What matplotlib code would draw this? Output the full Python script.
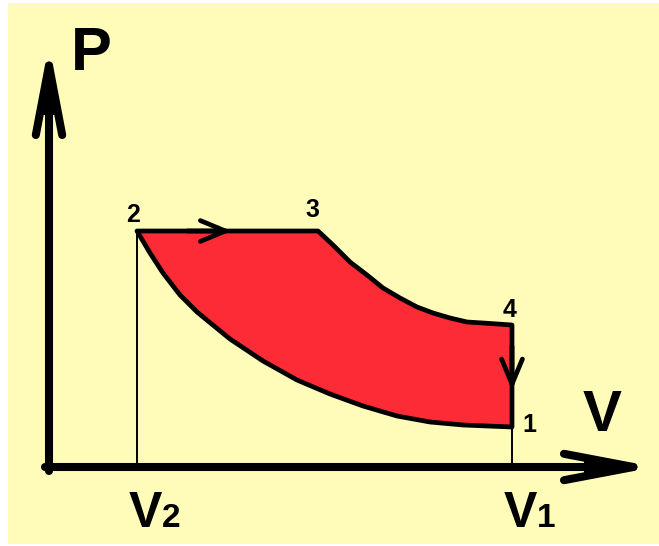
import matplotlib.pyplot as plt

plt.rcParams['font.family'] = ['Liberation Sans', 'DejaVu Sans']

# --- cycle data (V, P in arbitrary units, origin at the axes corner) ---
V1, V2, V3 = 463, 88, 269
P1, P2, P4 = 40, 236, 142
P3 = P2

# compression 1 -> 2
comp_V = [463, 414, 381, 348, 314, 281, 248, 214, 181, 148, 131, 114, 101, 88]
comp_P = [40, 42, 45, 51, 61, 73, 87, 106, 128, 155, 172, 194, 214, 236]
# expansion 3 -> 4
exp_V = [269, 284, 301, 318, 334, 351, 368, 384, 401, 418, 434, 463]
exp_P = [236, 222, 205, 192, 179, 169, 160, 154, 149, 145, 144, 142]

point_labels = ['1', '2', '3', '4']
axis_labels = ['P', 'V']
volume_labels = [('V', '2'), ('V', '1')]

V_max, P_max = 587, 404   # arrow tips of the axes

BG = '#fffcb9'
RED = '#fd2b35'

fig = plt.figure(figsize=(6.59, 5.46), dpi=100, facecolor='white')
ax = fig.add_axes([8 / 659, 2 / 546, 651 / 659, 541 / 546])
ax.set_xlim(-41, 610)
ax.set_ylim(-77, 464)
ax.axis('off')
ax.add_patch(plt.Rectangle((0, 0), 1, 1, transform=ax.transAxes,
                           facecolor=BG, edgecolor='none', zorder=0))

# cycle area
cyc_V = comp_V + exp_V + [V1]
cyc_P = comp_P + exp_P + [P1]
ax.fill(cyc_V, cyc_P, facecolor=RED, edgecolor='black', lw=3.4,
        joinstyle='round', zorder=3)

# thin drop lines to the V axis
ax.plot([V2, V2], [0, P2], color='black', lw=1.4, zorder=2)
ax.plot([V1, V1], [0, P1], color='black', lw=1.4, zorder=2)

# axes with big arrows (tip is pulled back by the head pad, so aim past it)
axis_arrow = dict(arrowstyle='->,head_length=5.0,head_width=0.95',
                  lw=5.8, color='black', shrinkA=0, shrinkB=0,
                  mutation_scale=10, joinstyle='round', capstyle='round')
# solid inner part of the head, leaves a small notch at the back
head_fill = dict(arrowstyle='-|>,head_length=3.6,head_width=0.7',
                 lw=0, color='black', shrinkA=0, shrinkB=0, mutation_scale=10)
ax.annotate('', xy=(0, P_max + 19), xytext=(0, -4), arrowprops=axis_arrow, zorder=4)
ax.annotate('', xy=(V_max + 19, 0), xytext=(-4, 0), arrowprops=axis_arrow, zorder=4)
ax.annotate('', xy=(0, P_max - 2), xytext=(0, P_max - 120), arrowprops=head_fill, zorder=4)
ax.annotate('', xy=(V_max - 2, 0), xytext=(V_max - 120, 0), arrowprops=head_fill, zorder=4)

# process direction arrows
proc_arrow = dict(arrowstyle='->,head_length=1.8,head_width=0.75',
                  lw=3.4, color='black', shrinkA=0, shrinkB=0, mutation_scale=10,
                  joinstyle='round', capstyle='round')
tip_23 = V2 + 0.5 * (V3 - V2)
ax.annotate('', xy=(tip_23 + 4, P2), xytext=(tip_23 - 40, P2), arrowprops=proc_arrow, zorder=5)
tip_41 = P4 - 0.6 * (P4 - P1)
ax.annotate('', xy=(V1, tip_41 - 4), xytext=(V1, tip_41 + 40), arrowprops=proc_arrow, zorder=5)

# labels
bold = dict(fontweight='bold', color='black', ha='center', va='center')
ax.text(V1 + 17, P1 + 2, point_labels[0], fontsize=18, **bold)
ax.text(V2 - 4, P2 + 16, point_labels[1], fontsize=18, **bold)
ax.text(V3 - 6, P3 + 21, point_labels[2], fontsize=18, **bold)
ax.text(V1 - 2, P4 + 15, point_labels[3], fontsize=18, **bold)

ax.text(42, P_max + 9, axis_labels[0], fontsize=44, **bold)
ax.text(553, 51, axis_labels[1], fontsize=42, **bold)

for v, (main, sub) in zip([V2, V1], volume_labels):
    ax.text(v - 8, -60, main, fontsize=36, fontweight='bold', ha='left', va='baseline')
    ax.text(v + 25, -60, sub, fontsize=24, fontweight='bold', ha='left', va='baseline')

fig.savefig('out.png', dpi=100, facecolor='white')
